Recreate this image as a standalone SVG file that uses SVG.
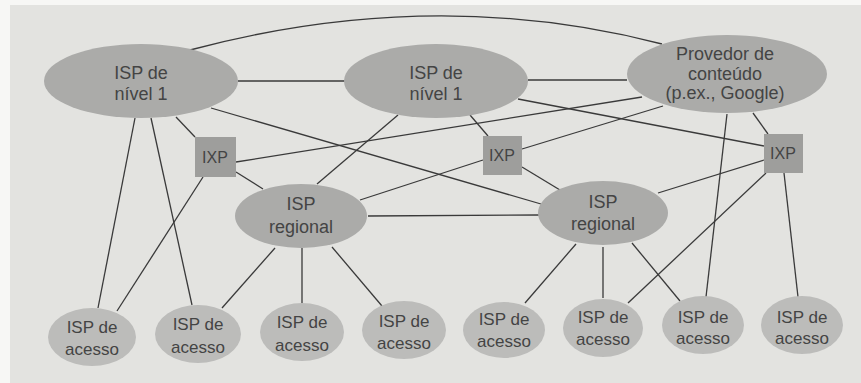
<svg xmlns="http://www.w3.org/2000/svg" width="861" height="383" viewBox="0 0 861 383">
<style>
.e{stroke:#3a3a3a;stroke-width:1.3;fill:none}
.t1{fill:#ababa9}
.ac{fill:#bcbcba}
.ix{fill:#9e9e9c}
text{font-family:"Liberation Sans",Arial,sans-serif;fill:#444;text-anchor:middle}
.f18{font-size:18px}
.f17{font-size:17px}
.f16{font-size:16px}
</style>
<rect x="0" y="0" width="861" height="383" fill="#f7f7f5"/>
<rect x="10" y="5" width="851" height="378" fill="#e3e3e0"/>
<g id="connectors">
<path class="e" d="M190,50 Q434,-15 662,44"/>
<path class="e" d="M238,81 L345,81"/>
<path class="e" d="M528,80 L627,80"/>
<path class="e" d="M176,117 L195,137"/>
<path class="e" d="M135,118 L98,308"/>
<path class="e" d="M151,118 L192,305"/>
<path class="e" d="M211,108 L541,204"/>
<path class="e" d="M236,172 L263,189"/>
<path class="e" d="M203,177 L117,311"/>
<path class="e" d="M236,162 L642,97"/>
<path class="e" d="M398,115 L317,184"/>
<path class="e" d="M470,115 L488,136"/>
<path class="e" d="M518,99 L764,146"/>
<path class="e" d="M522,149 L663,106"/>
<path class="e" d="M522,167 L560,190"/>
<path class="e" d="M483,160 L360,200"/>
<path class="e" d="M753,113 L768,134"/>
<path class="e" d="M727,114 L706,297"/>
<path class="e" d="M764,160 L658,193"/>
<path class="e" d="M766,173 L628,303"/>
<path class="e" d="M784,173 L798,297"/>
<path class="e" d="M368,216 L539,215"/>
<path class="e" d="M275,248 L222,308"/>
<path class="e" d="M302,248 L302,303"/>
<path class="e" d="M332,247 L382,306"/>
<path class="e" d="M576,244 L525,303"/>
<path class="e" d="M603,247 L603,298"/>
<path class="e" d="M632,243 L680,301"/>
</g>
<g id="tier1-left"><ellipse class="t1" cx="141" cy="81" rx="97" ry="37"/><text class="f18" x="141" y="79">ISP de</text><text class="f18" x="141" y="100">nível 1</text></g>
<g id="tier1-mid"><ellipse class="t1" cx="436" cy="81" rx="92" ry="37"/><text class="f18" x="436" y="79">ISP de</text><text class="f18" x="436" y="100">nível 1</text></g>
<g id="provedor"><ellipse class="t1" cx="727" cy="74" rx="100" ry="39"/><text class="f18" x="725" y="60">Provedor de</text><text class="f18" x="725" y="80">conteúdo</text><text class="f18" x="725" y="99">(p.ex., Google)</text></g>
<g id="ixp-left"><rect class="ix" x="195" y="137" width="41" height="40"/><text class="f16" x="215" y="163">IXP</text></g>
<g id="ixp-mid"><rect class="ix" x="483" y="136" width="39" height="39"/><text class="f16" x="502" y="161">IXP</text></g>
<g id="ixp-right"><rect class="ix" x="764" y="134" width="39" height="39"/><text class="f16" x="783" y="159">IXP</text></g>
<g id="regional-left"><ellipse class="t1" cx="301" cy="216" rx="66" ry="32"/><text class="f18" x="301" y="210">ISP</text><text class="f18" x="301" y="233">regional</text></g>
<g id="regional-right"><ellipse class="t1" cx="603" cy="213" rx="65" ry="32"/><text class="f18" x="603" y="208">ISP</text><text class="f18" x="603" y="230">regional</text></g>
<g id="access-1"><ellipse class="ac" cx="92" cy="337" rx="44" ry="29"/><text class="f17" x="92" y="333">ISP de</text><text class="f17" x="92" y="355">acesso</text></g>
<g id="access-2"><ellipse class="ac" cx="198" cy="334" rx="43" ry="29"/><text class="f17" x="198" y="330">ISP de</text><text class="f17" x="198" y="353">acesso</text></g>
<g id="access-3"><ellipse class="ac" cx="302" cy="332" rx="42" ry="29"/><text class="f17" x="302" y="328">ISP de</text><text class="f17" x="302" y="351">acesso</text></g>
<g id="access-4"><ellipse class="ac" cx="404" cy="330" rx="42" ry="29"/><text class="f17" x="404" y="327">ISP de</text><text class="f17" x="404" y="349">acesso</text></g>
<g id="access-5"><ellipse class="ac" cx="504" cy="330" rx="41" ry="28"/><text class="f17" x="504" y="325">ISP de</text><text class="f17" x="504" y="347">acesso</text></g>
<g id="access-6"><ellipse class="ac" cx="603" cy="328" rx="40" ry="29"/><text class="f17" x="603" y="323">ISP de</text><text class="f17" x="603" y="345">acesso</text></g>
<g id="access-7"><ellipse class="ac" cx="703" cy="325" rx="41" ry="29"/><text class="f17" x="703" y="323">ISP de</text><text class="f17" x="703" y="344">acesso</text></g>
<g id="access-8"><ellipse class="ac" cx="802" cy="325" rx="41" ry="29"/><text class="f17" x="802" y="323">ISP de</text><text class="f17" x="802" y="344">acesso</text></g>
</svg>
